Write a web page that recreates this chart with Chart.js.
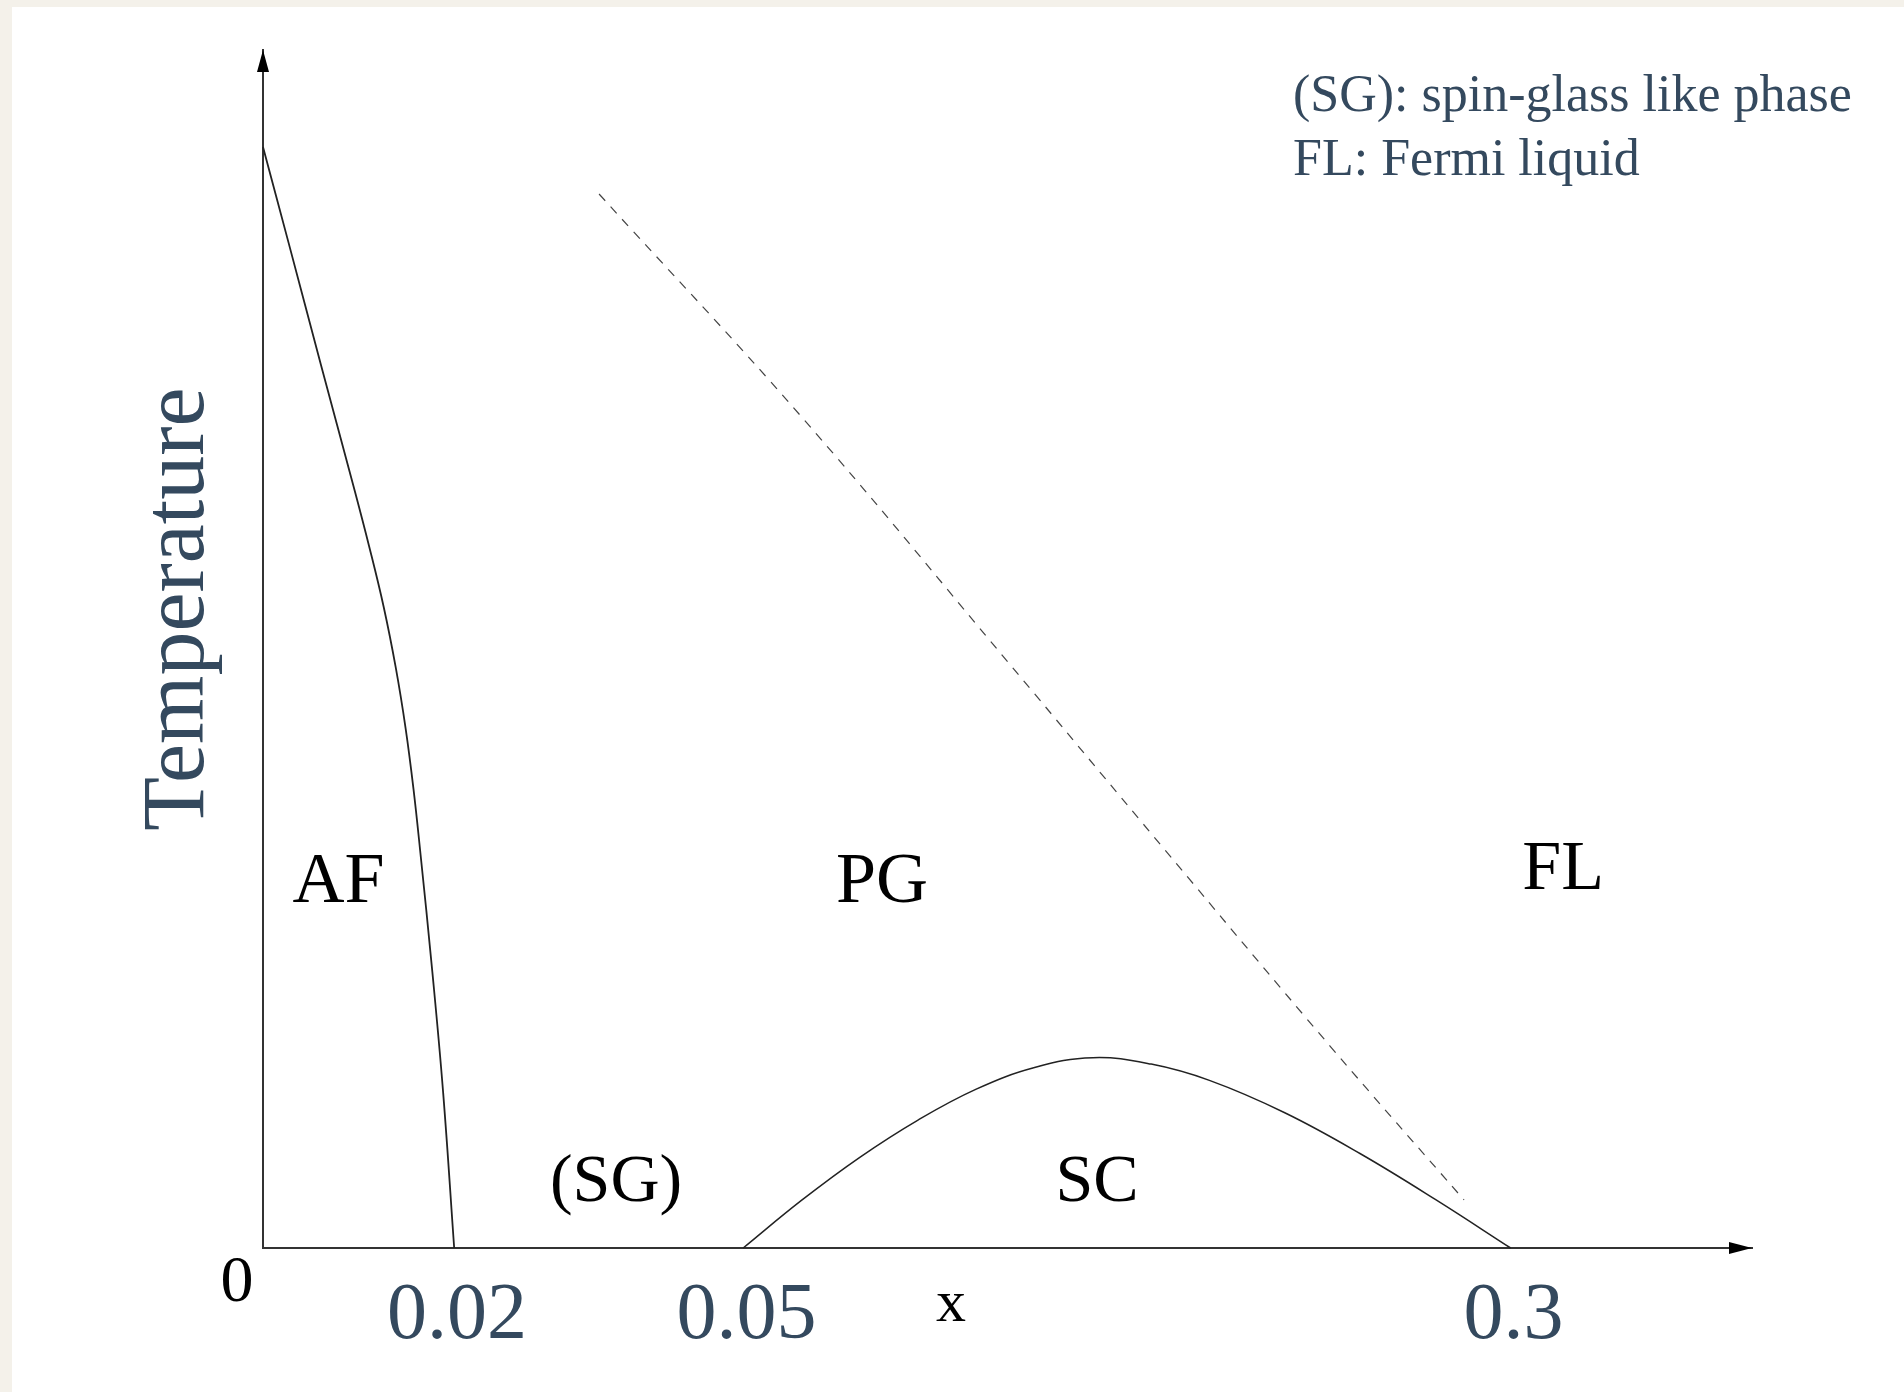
<!DOCTYPE html>
<html>
<head>
<meta charset="utf-8">
<script src="https://cdn.jsdelivr.net/npm/chart.js@4.4.1/dist/chart.umd.min.js"></script>
<style>
  html, body { margin: 0; padding: 0; background: #ffffff; }
  #wrap { width: 1904px; height: 1392px; position: relative; }
</style>
</head>
<body>
<div id="wrap"><canvas id="c"></canvas></div>
<script>
// ---- schematic phase diagram data (x: schematic doping axis 0..100, y: schematic temperature 0..100) ----
const afX = [0, 1.72, 3.88, 6.07, 7.13, 8.11, 8.92, 9.58, 10.11, 10.55, 11.37, 12.10, 12.84];
const afY = [91.9, 83.90, 73.77, 63.63, 58.56, 53.49, 48.42, 43.36, 38.29, 33.22, 23.09, 12.95, 0];

const pgX = [22.57, 36.06, 50.03, 60.58, 71.66, 80.66];
const pgY = [87.98, 69.53, 48.91, 33.22, 16.86, 4.01];

const scX = [32.25, 36.16, 40.08, 43.99, 47.90, 51.82, 55.73, 59.65, 63.56, 68.62, 73.67, 78.73, 83.79];
const scY = [0, 3.97, 7.57, 10.68, 13.26, 15.06, 15.89, 15.35, 13.99, 11.29, 7.89, 4.06, 0];

const tickValues = [12.83, 32.27, 83.78];
const tickLabels = ['0.02', '0.05', '0.3'];

const regionNames = ['AF', 'PG', 'FL', '(SG)', 'SC'];
const regionX = [5.07, 41.57, 87.31, 23.71, 56.01];
const regionY = [28.9, 28.9, 29.97, 3.92, 3.92];

const notes = ['(SG): spin-glass like phase', 'FL: Fermi liquid'];
const yTitle = 'Temperature';
const xTitle = 'x';
const originLabel = '0';

const toPts = (xs, ys) => xs.map((x, i) => ({ x: x, y: ys[i] }));

const BLUE = '#34495e';
const SERIF = '"Liberation Serif", "Times New Roman", serif';
const regionFontPx = [72, 72, 70, 68, 68];

const decor = {
  id: 'decor',
  beforeDraw(chart) {
    const ctx = chart.ctx;
    ctx.save();
    ctx.fillStyle = '#f4f1ea';
    ctx.fillRect(0, 0, chart.width, chart.height);
    ctx.fillStyle = '#ffffff';
    ctx.fillRect(12, 7, chart.width - 12, chart.height - 7);
    ctx.restore();
  },
  afterDraw(chart) {
    const ctx = chart.ctx;
    const xs = chart.scales.x, ys = chart.scales.y;
    const x0 = xs.getPixelForValue(0);
    const y0 = ys.getPixelForValue(0);
    const yTop = ys.getPixelForValue(100);
    const xEnd = xs.getPixelForValue(100);
    ctx.save();
    // arrow heads
    ctx.fillStyle = '#000';
    ctx.beginPath();
    ctx.moveTo(x0, yTop);
    ctx.lineTo(x0 - 6, yTop + 22);
    ctx.lineTo(x0 + 6, yTop + 22);
    ctx.closePath();
    ctx.fill();
    ctx.beginPath();
    ctx.moveTo(xEnd, y0);
    ctx.lineTo(xEnd - 23, y0 - 6);
    ctx.lineTo(xEnd - 23, y0 + 6);
    ctx.closePath();
    ctx.fill();

    // region labels
    ctx.fillStyle = '#000';
    ctx.textAlign = 'center';
    ctx.textBaseline = 'alphabetic';
    regionNames.forEach((n, i) => {
      ctx.font = regionFontPx[i] + 'px ' + SERIF;
      ctx.fillText(n, xs.getPixelForValue(regionX[i]), ys.getPixelForValue(regionY[i]));
    });

    // origin "0" and axis name "x"
    ctx.font = '66px ' + SERIF;
    ctx.fillText(originLabel, x0 - 26, y0 + 53);
    ctx.font = '60px ' + SERIF;
    ctx.fillText(xTitle, xs.getPixelForValue(46.2), y0 + 73);

    // y axis title
    ctx.fillStyle = BLUE;
    ctx.save();
    ctx.translate(203, (y0 + yTop) / 2 - 40);
    ctx.rotate(-Math.PI / 2);
    ctx.font = '88px ' + SERIF;
    ctx.textAlign = 'center';
    ctx.fillText(yTitle, 0, 0);
    ctx.restore();

    // notes
    ctx.font = '52px ' + SERIF;
    ctx.textAlign = 'left';
    ctx.fillText(notes[0], 1293, 111);
    ctx.fillText(notes[1], 1293, 175);
    ctx.restore();
  }
};

const lineStyle = { pointRadius: 0, borderColor: '#222', borderWidth: 1.8, fill: false, tension: 0.4, clip: false };

new Chart(document.getElementById('c'), {
  type: 'scatter',
  data: {
    datasets: [
      Object.assign({ label: 'AF boundary', data: toPts(afX, afY), showLine: true }, lineStyle),
      Object.assign({ label: 'SC dome', data: toPts(scX, scY), showLine: true }, lineStyle, { borderWidth: 1.5 }),
      Object.assign({ label: 'Pseudogap T*', data: toPts(pgX, pgY), showLine: true }, lineStyle, { borderColor: '#444', borderWidth: 1.2, borderDash: [9, 8] })
    ]
  },
  options: {
    responsive: true,
    maintainAspectRatio: false,
    devicePixelRatio: 1,
    animation: false,
    layout: { padding: { top: 50, right: 152, bottom: 0, left: 0 } },
    plugins: { legend: { display: false }, tooltip: { enabled: false } },
    scales: {
      x: {
        type: 'linear', position: 'bottom', min: 0, max: 100,
        grid: { display: false, drawTicks: false },
        border: { display: true, color: '#333', width: 2 },
        afterBuildTicks: (s) => { s.ticks = tickValues.map(v => ({ value: v })); },
        afterFit: (s) => { s.height = 144; },
        ticks: {
          autoSkip: false, maxRotation: 0, minRotation: 0, padding: 21, labelOffset: 3,
          color: BLUE,
          font: { family: SERIF, size: 80 },
          callback: (v) => { const i = tickValues.indexOf(v); return i >= 0 ? tickLabels[i] : ''; }
        }
      },
      y: {
        type: 'linear', position: 'left', min: 0, max: 100,
        grid: { display: false, drawTicks: false },
        border: { display: true, color: '#333', width: 2 },
        afterFit: (s) => { s.width = 263; },
        ticks: { display: false }
      }
    }
  },
  plugins: [decor]
});
</script>
</body>
</html>
